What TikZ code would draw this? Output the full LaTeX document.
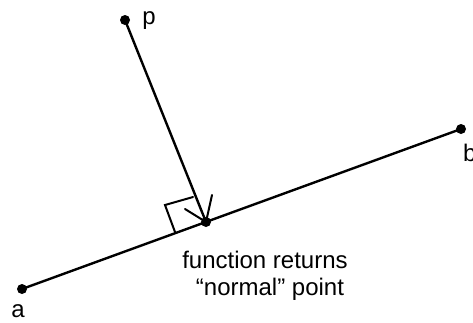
\documentclass[tikz,border=0pt]{standalone}
\usepackage{fontspec}
\setmainfont{Liberation Sans}
\begin{document}
\begin{tikzpicture}[x=1pt,y=-1pt,
  ln/.style={line width=2.4pt, line cap=round},
  dot/.style={circle, fill=black, inner sep=0pt, minimum size=10pt},
  lbl/.style={inner sep=0pt, font=\fontsize{24}{27}\selectfont}]
\useasboundingbox (0,0) rectangle (473,322);
\node[dot] (p) at (125,20) {};
\node[dot] (a) at (22,289) {};
\node[dot] (b) at (461,129) {};
\node[dot] (f) at (206,222) {};
\coordinate (c1) at (175,232);
\coordinate (c2) at (165,205);
\coordinate (c3) at (193,197);
\coordinate (t1) at (185,209);
\coordinate (t2) at (212,195);
\draw[ln] (a.center) -- (b.center);
\draw[ln] (p.center) -- (f.center);
\draw[ln, line width=2pt] (c1) -- (c2) -- (c3);
\draw[ln, line width=2pt] (t1) -- (f.center) -- (t2);
\node[lbl, anchor=base] (lp) at (149,24) {p};
\node[lbl, anchor=base] (la) at (18,317) {a};
\node[lbl, anchor=base west] (lb) at (463,161) {b};
\node[lbl, anchor=base] (l1) at (265,268) {function returns};
\node[lbl, anchor=base] (l2) at (270,295) {“normal” point};
\end{tikzpicture}
\end{document}
